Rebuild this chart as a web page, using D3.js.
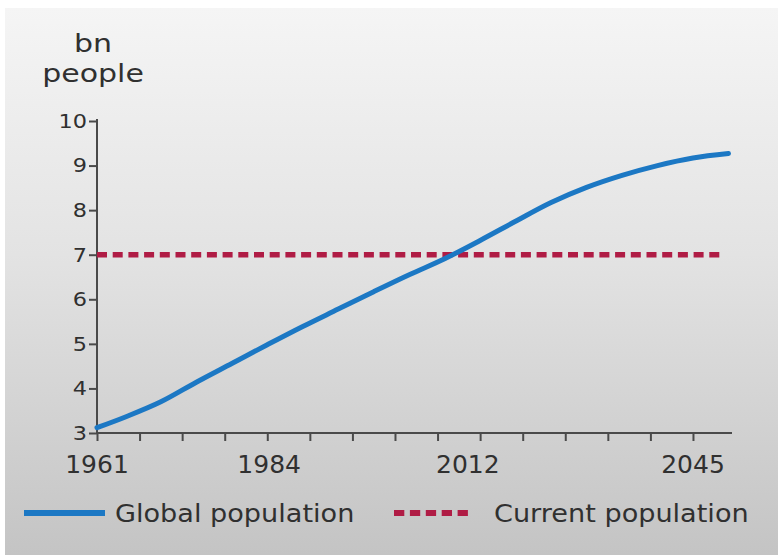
<!doctype html>
<html lang="en">
<head>
    <meta charset="UTF-8">
    <title>Global population</title>
    <script type="text/javascript" src="https://cdn.jsdelivr.net/npm/d3@7"></script>
    <style type="text/css">
        body { margin: 0; background: #ffffff; }
        svg { display: block; font-family: "DejaVu Sans", Verdana, sans-serif; }
    </style>
</head>
<body>
<script type="text/javascript">
    // data (bn people)
    var years = [1961, 1965, 1970, 1975, 1980, 1985, 1990, 1995, 2000, 2005, 2010, 2015, 2020, 2025, 2030, 2035, 2040, 2045, 2050];
    var population = [3.12, 3.36, 3.70, 4.14, 4.56, 4.98, 5.39, 5.78, 6.17, 6.55, 6.91, 7.32, 7.75, 8.17, 8.51, 8.78, 9.00, 9.17, 9.27];
    var currentPopulation = 7;
    var currentYears = [1961, 2049];
    var yTicks = [3, 4, 5, 6, 7, 8, 9, 10];
    var xTicks = [1961, 1967, 1973, 1979, 1985, 1991, 1997, 2003, 2009, 2015, 2021, 2027, 2033, 2039, 2045];
    var xLabels = [1961, 1984, 2012, 2045];
    var seriesNames = ["Global population", "Current population"];

    var width = 782;
    var height = 555;
    var blue = "#1c78c4";
    var red = "#b01c45";
    var ink = "#303030";

    var svg = d3.select("body").append("svg").attr("width", width).attr("height", height);

    // grey gradient panel
    var grad = svg.append("defs").append("linearGradient")
        .attr("id", "bg").attr("x1", 0).attr("y1", 0).attr("x2", 0).attr("y2", 1);
    grad.append("stop").attr("offset", "0%").attr("stop-color", "#f5f5f5");
    grad.append("stop").attr("offset", "45%").attr("stop-color", "#e3e3e3");
    grad.append("stop").attr("offset", "100%").attr("stop-color", "#c4c4c4");
    svg.append("rect").attr("x", 5).attr("y", 8).attr("width", 773).attr("height", 547)
        .attr("fill", "url(#bg)");

    var x_scale = d3.scaleLinear().domain([1961, 2050.5]).range([97, 732]);
    var y_scale = d3.scaleLinear().domain([3, 10]).range([433, 121]);

    // y axis
    var yAxis = svg.append("g").attr("transform", "translate(97,0)")
        .call(d3.axisLeft(y_scale).tickValues(yTicks).tickSize(8).tickPadding(4).tickFormat(d3.format("d")));
    yAxis.selectAll("path, line").attr("stroke", "#4a4a4a").attr("stroke-width", 2);
    yAxis.selectAll("text")
        .attr("fill", ink).attr("font-size", 20).attr("font-family", "DejaVu Sans")
        .attr("x", -10 / 1.12).attr("transform", "scale(1.12,1)");

    // x axis
    var xAxis = svg.append("g").attr("transform", "translate(0,433)")
        .call(d3.axisBottom(x_scale).tickValues(xTicks).tickSize(8).tickFormat(""));
    xAxis.selectAll("path, line").attr("stroke", "#4a4a4a").attr("stroke-width", 2);
    xAxis.select(".domain").attr("d", "M96,0H732");
    yAxis.select(".domain").attr("d", "M0,119V434");

    svg.append("g").selectAll("text")
        .data(xLabels)
        .enter()
        .append("text")
        .text(function (d) { return d; })
        .attr("transform", function (d) {
            var shift = (d === 1961 || d === 2045) ? 0 : 9;
            return "translate(" + (x_scale(d) + shift) + ",473)";
        })
        .attr("text-anchor", "middle")
        .attr("font-size", 25)
        .attr("fill", ink);

    // unit label
    svg.append("text").text("bn").attr("transform", "translate(93,52) scale(1.2,1)")
        .attr("text-anchor", "middle").attr("font-size", 25).attr("fill", ink);
    svg.append("text").text("people").attr("transform", "translate(93,82) scale(1.2,1)")
        .attr("text-anchor", "middle").attr("font-size", 25).attr("fill", ink);

    // current population reference line
    svg.append("line")
        .attr("x1", x_scale(currentYears[0])).attr("x2", x_scale(currentYears[1]))
        .attr("y1", y_scale(currentPopulation)).attr("y2", y_scale(currentPopulation))
        .attr("stroke", red).attr("stroke-width", 5.5).attr("stroke-dasharray", "10,5.7");

    // population curve
    var line = d3.line()
        .x(function (d, i) { return x_scale(years[i]); })
        .y(function (d) { return y_scale(d); })
        .curve(d3.curveCatmullRom.alpha(0.5));
    svg.append("path").datum(population)
        .attr("d", line)
        .attr("fill", "none").attr("stroke", blue).attr("stroke-width", 5)
        .attr("stroke-linecap", "round");

    // legend
    svg.append("line").attr("x1", 24).attr("x2", 105).attr("y1", 513).attr("y2", 513)
        .attr("stroke", blue).attr("stroke-width", 6);
    svg.append("text").text(seriesNames[0]).attr("transform", "translate(115,522) scale(1.13,1)")
        .attr("font-size", 24).attr("fill", ink);
    svg.append("line").attr("x1", 394).attr("x2", 468).attr("y1", 513).attr("y2", 513)
        .attr("stroke", red).attr("stroke-width", 6).attr("stroke-dasharray", "10.3,5.6");
    svg.append("text").text(seriesNames[1]).attr("transform", "translate(494,522) scale(1.13,1)")
        .attr("font-size", 24).attr("fill", ink);
</script>
</body>
</html>
